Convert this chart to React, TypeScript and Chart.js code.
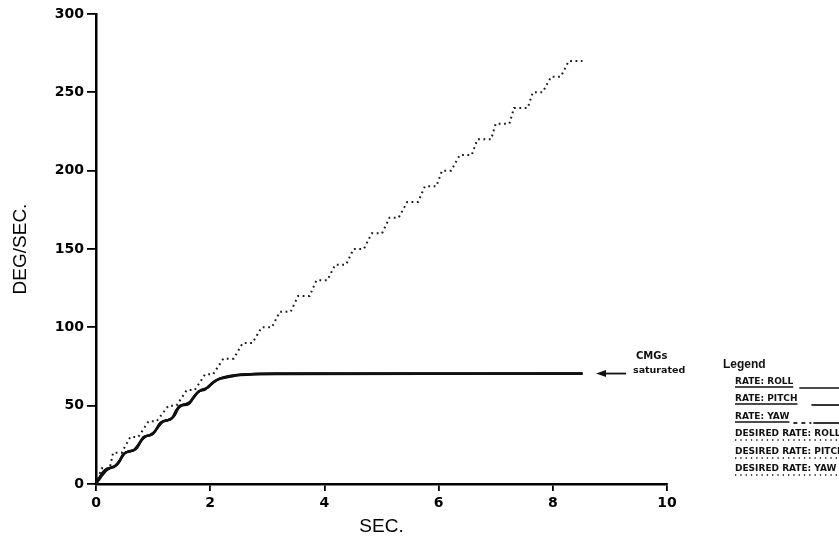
import React, { useEffect, useRef } from "react";
import { Chart, registerables } from "chart.js";

Chart.register(...registerables);

// ---------- data ----------
const xTickStep = 2;
const yTickStep = 50;
const xMax = 10;
const yMax = 300;

// desired rate (roll) – staircase, dotted
const desiredT = [
  0, 0.10, 0.24, 0.30, 0.45, 0.60, 0.74, 0.92, 1.06, 1.27, 1.41, 1.59, 1.73, 1.91, 2.05,
  2.23, 2.41, 2.57, 2.74, 2.90, 3.08, 3.22, 3.41, 3.54, 3.74, 3.86, 4.05, 4.19, 4.38,
  4.51, 4.69, 4.83, 5.01, 5.14, 5.30, 5.45, 5.64, 5.76, 5.96, 6.06, 6.22, 6.37, 6.58,
  6.68, 6.92, 7.00, 7.24, 7.32, 7.56, 7.65, 7.82, 7.97, 8.14, 8.28, 8.52,
];
const desiredV = [
  0, 10, 10, 20, 20, 30, 30, 40, 40, 50, 50, 60, 60, 70, 70,
  80, 80, 90, 90, 100, 100, 110, 110, 120, 120, 130, 130, 140, 140,
  150, 150, 160, 160, 170, 170, 180, 180, 190, 190, 200, 200, 210, 210,
  220, 220, 230, 230, 240, 240, 250, 250, 260, 260, 270, 270,
];

// actual rates
const rollT = [0, 0.07, 0.16, 0.25, 0.31, 0.39, 0.48, 0.57, 0.65, 0.74, 0.83, 0.95, 1.04, 1.12, 1.21, 1.33, 1.41, 1.47, 1.62, 1.70, 1.79, 1.91, 2.03, 2.14, 2.29, 2.52, 3.2, 8.52];
const rollV = [0, 4.7, 8.9, 10.4, 10.8, 13.2, 19.1, 20.8, 21.4, 24.9, 29.8, 31.3, 34, 38.7, 40.4, 41.9, 47.2, 49.8, 51, 54.7, 58.9, 60.4, 64.3, 66.8, 68.1, 69.6, 70.3, 70.5];

const pitchT = [0, 0.08, 0.18, 0.27, 0.35, 0.45, 0.52, 0.62, 0.72, 0.80, 0.88, 1.0, 1.10, 1.18, 1.28, 1.38, 1.46, 1.56, 1.66, 1.74, 1.84, 1.96, 2.06, 2.18, 2.34, 2.6, 3.3, 8.52];
const pitchV = [0, 4, 8.5, 10.5, 12, 17, 20, 21, 23, 28, 30.5, 32, 37, 40, 41, 44, 49.5, 51, 53, 57, 60, 61.5, 65, 67.5, 69, 70, 70.4, 70.5];

const yawT = [0, 0.07, 0.17, 0.26, 0.33, 0.42, 0.50, 0.60, 0.68, 0.77, 0.86, 0.98, 1.07, 1.15, 1.25, 1.36, 1.44, 1.52, 1.64, 1.72, 1.82, 1.93, 2.05, 2.16, 2.31, 2.55, 3.25, 8.52];
const yawV = [0, 4.4, 8.7, 10.4, 11.5, 15, 19.6, 21, 22, 26.5, 30.2, 31.6, 35.5, 39.3, 40.7, 43, 48.3, 50.4, 52, 56, 59.4, 61, 64.6, 67.2, 68.6, 69.8, 70.4, 70.5];

const legendTitle = "Legend";
const legendLabels = [
  "RATE: ROLL",
  "RATE: PITCH",
  "RATE: YAW",
  "DESIRED RATE: ROLL",
  "DESIRED RATE: PITCH",
  "DESIRED RATE: YAW",
];
const noteLines = ["CMGs", "saturated"];
const saturationValue = 70.5;

const pts = (t: number[], v: number[]) => t.map((x, i) => ({ x, y: v[i] }));

const annotationPlugin = {
  id: "annotations",
  afterDraw(chart: any) {
    const ctx = chart.ctx as CanvasRenderingContext2D;
    const ys = chart.scales.y;
    const yArrow = ys.getPixelForValue(saturationValue);
    ctx.save();
    ctx.fillStyle = "#111";
    ctx.strokeStyle = "#111";
    // arrow
    ctx.lineWidth = 1.8;
    ctx.beginPath();
    ctx.moveTo(600, yArrow);
    ctx.lineTo(626, yArrow);
    ctx.stroke();
    ctx.beginPath();
    ctx.moveTo(596, yArrow);
    ctx.lineTo(606, yArrow - 3.5);
    ctx.lineTo(606, yArrow + 3.5);
    ctx.closePath();
    ctx.fill();

    // note text
    ctx.textBaseline = "middle";
    ctx.textAlign = "left";
    ctx.font = "bold 10px 'DejaVu Sans'";
    ctx.fillText(noteLines[0], 636, 356);
    ctx.font = "bold 9.5px 'DejaVu Sans'";
    ctx.fillText(noteLines[1], 633, 371);

    // legend
    ctx.font = "bold 12px 'Liberation Sans'";
    ctx.fillText(legendTitle, 723, 365);
    ctx.font = "bold 9px 'DejaVu Sans'";
    const x0 = 735;
    const rowY = [382, 399, 417, 434, 452, 469];
    legendLabels.forEach((lab, i) => {
      const y = rowY[i];
      ctx.fillText(lab, x0, y);
      const w = ctx.measureText(lab).width;
      const uy = y + 5;
      ctx.lineWidth = 1.3;
      if (i < 3) {
        ctx.setLineDash([]);
        ctx.beginPath();
        ctx.moveTo(x0, uy);
        ctx.lineTo(x0 + w, uy);
        ctx.stroke();
        ctx.lineWidth = 1.7;
        if (i === 0) {
          ctx.beginPath();
          ctx.moveTo(x0 + w + 6, uy + 1);
          ctx.lineTo(839, uy + 1);
          ctx.stroke();
        } else if (i === 1) {
          ctx.beginPath();
          ctx.moveTo(x0 + w + 14, uy + 1);
          ctx.lineTo(839, uy + 1);
          ctx.stroke();
        } else {
          ctx.setLineDash([4, 4]);
          ctx.beginPath();
          ctx.moveTo(x0 + w + 4, uy + 1);
          ctx.lineTo(x0 + w + 22, uy + 1);
          ctx.stroke();
          ctx.setLineDash([]);
          ctx.beginPath();
          ctx.moveTo(x0 + w + 24, uy + 1);
          ctx.lineTo(839, uy + 1);
          ctx.stroke();
        }
      } else {
        ctx.setLineDash([1.3, 4]);
        ctx.beginPath();
        ctx.moveTo(x0, uy + 1);
        ctx.lineTo(839, uy + 1);
        ctx.stroke();
        ctx.setLineDash([]);
      }
    });
    ctx.restore();
  },
};

export default function App() {
  const ref = useRef<HTMLCanvasElement | null>(null);
  useEffect(() => {
    if (!ref.current) return;
    const tickFont = { family: "'DejaVu Sans'", weight: "bold" as const, size: 14 };
    const titleFont = { family: "'Liberation Sans'", size: 19 };
    const chart = new Chart(ref.current, {
      type: "line",
      data: {
        datasets: [
          {
            label: "DESIRED RATE: ROLL",
            data: pts(desiredT, desiredV),
            borderColor: "#1a1a1a",
            borderWidth: 2,
            borderDash: [1.8, 3.6],
            pointRadius: 0,
            tension: 0,
            fill: false,
          },
          {
            label: "RATE: YAW",
            data: pts(yawT, yawV),
            borderColor: "#111",
            borderWidth: 2.2,
            pointRadius: 0,
            cubicInterpolationMode: "monotone",
            fill: false,
          },
          {
            label: "RATE: PITCH",
            data: pts(pitchT, pitchV),
            borderColor: "#111",
            borderWidth: 2.2,
            pointRadius: 0,
            cubicInterpolationMode: "monotone",
            fill: false,
          },
          {
            label: "RATE: ROLL",
            data: pts(rollT, rollV),
            borderColor: "#000",
            borderWidth: 2.6,
            pointRadius: 0,
            cubicInterpolationMode: "monotone",
            fill: false,
          },
        ],
      },
      options: {
        animation: false,
        responsive: false,
        layout: { padding: { left: 0, right: 172, top: 14, bottom: 0 } },
        plugins: { legend: { display: false }, tooltip: { enabled: false } },
        scales: {
          x: {
            type: "linear",
            min: 0,
            max: xMax,
            afterFit: (s: any) => {
              s.height = 60;
            },
            ticks: { stepSize: xTickStep, color: "#000", font: tickFont, padding: 4 },
            grid: { drawOnChartArea: false, tickLength: 7, color: "#000", lineWidth: 1.8 },
            border: { color: "#000", width: 2.5 },
            title: { display: true, text: "SEC.", color: "#000", font: titleFont, padding: { top: 0, bottom: 6 } },
          },
          y: {
            type: "linear",
            min: 0,
            max: yMax,
            afterFit: (s: any) => {
              s.width = 96;
            },
            ticks: { stepSize: yTickStep, color: "#000", font: tickFont, padding: 3 },
            grid: { drawOnChartArea: false, tickLength: 9, color: "#000", lineWidth: 1.8 },
            border: { color: "#000", width: 2.5 },
            title: { display: true, text: "DEG/SEC.", color: "#000", font: titleFont, padding: { top: 9, bottom: 0 } },
          },
        },
      },
      plugins: [annotationPlugin],
    });
    return () => chart.destroy();
  }, []);
  return (
    <div style={{ position: "absolute", left: 0, top: 0, width: 839, height: 544, background: "#fff" }}>
      <canvas ref={ref} width={839} height={544} style={{ width: 839, height: 544, display: "block" }} />
    </div>
  );
}
